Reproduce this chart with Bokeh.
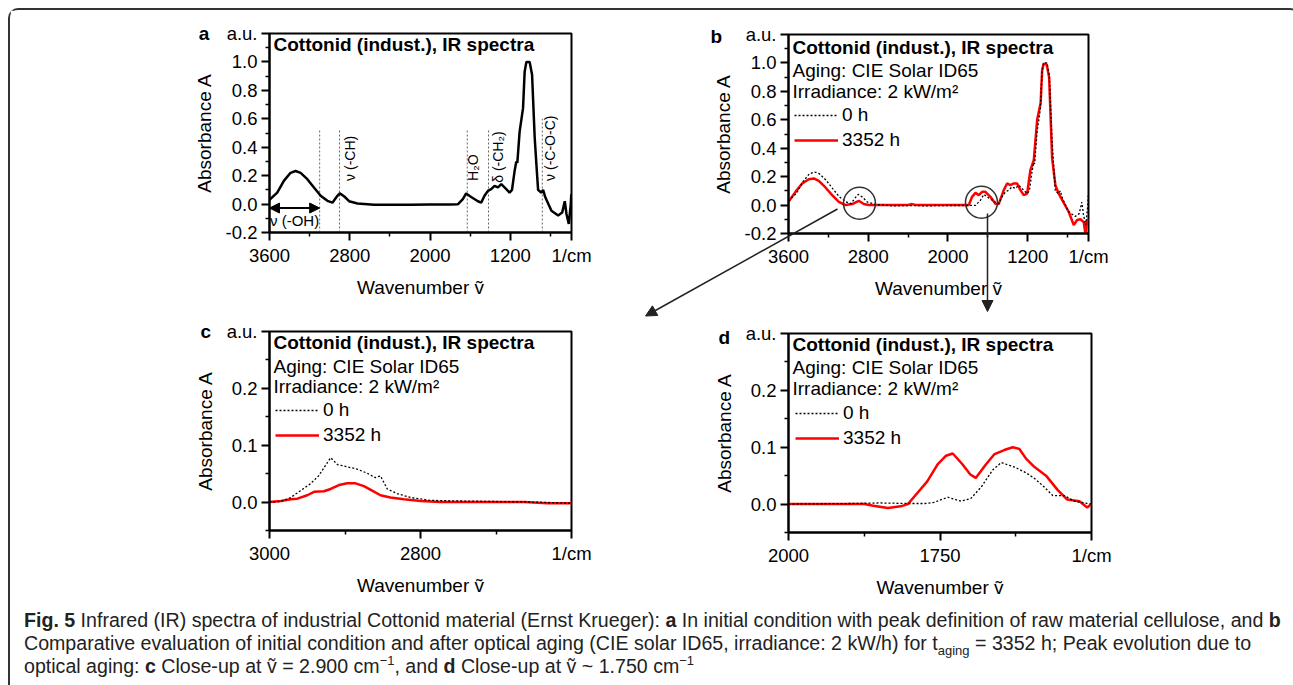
import math
from bokeh.plotting import figure
from bokeh.models import (Range1d, FixedTicker, NumeralTickFormatter, Label, Arrow,
                          NormalHead, Div, Legend, LegendItem, GridBox)
from bokeh.embed import file_html
from bokeh.resources import INLINE

FONT = "Liberation Sans"

# ---------------- data ----------------
# panel a / b : initial condition (0 h)
wn_0h = [3600, 3523, 3457, 3390, 3340, 3290, 3223, 3157, 3090, 3023, 2973, 2923, 2900, 2857,
         2807, 2723, 2557, 2400, 2200, 2000, 1800, 1723, 1673, 1640, 1590, 1523, 1490, 1457,
         1423, 1390, 1357, 1323, 1290, 1240, 1207, 1183, 1157, 1140, 1130, 1107, 1073, 1057,
         1040, 1007, 983, 957, 940, 923, 890, 873, 850, 790, 723, 683, 657, 640, 617, 597, 592]
abs_0h = [0.03, 0.08, 0.163, 0.22, 0.233, 0.22, 0.175, 0.116, 0.058, 0.023, 0.01, 0.058, 0.075,
          0.055, 0.02, 0.004, -0.005, -0.004, -0.005, -0.003, -0.003, -0.002, 0.035, 0.075, 0.05,
          0.02, 0.01, 0.058, 0.093, 0.105, 0.128, 0.117, 0.14, 0.105, 0.081, 0.10, 0.233, 0.30,
          0.29, 0.51, 0.675, 0.93, 1.0, 1.0, 0.91, 0.47, 0.28, 0.10, 0.08, 0.10, 0.046, -0.047,
          -0.08, -0.06, 0.02, -0.07, -0.14, 0.0, 0.07]
# panel b : after 3352 h
wn_3352h = [3600, 3530, 3463, 3396, 3346, 3296, 3229, 3162, 3095, 3028, 2961, 2895, 2845, 2795,
            2600, 2400, 2359, 2325, 2100, 1900, 1791, 1758, 1724, 1691, 1657, 1624, 1574, 1524,
            1491, 1440, 1407, 1373, 1340, 1306, 1273, 1240, 1206, 1173, 1139, 1105, 1070, 1055,
            1040, 1010, 985, 955, 922, 889, 855, 789, 738, 704, 671, 638, 621, 604, 592]
abs_3352h = [0.023, 0.093, 0.152, 0.182, 0.187, 0.17, 0.124, 0.07, 0.023, 0.0, 0.007, 0.03,
             0.007, 0.0, 0.0, 0.0, 0.007, 0.0, 0.0, 0.0, 0.0, 0.058, 0.086, 0.07, 0.093, 0.093,
             0.058, 0.01, 0.007, 0.105, 0.152, 0.14, 0.152, 0.152, 0.105, 0.07, 0.08, 0.245,
             0.316, 0.6, 0.72, 0.95, 0.995, 0.99, 0.9, 0.33, 0.14, 0.08, 0.037, -0.047, -0.14,
             -0.105, -0.1, -0.12, -0.2, -0.11, -0.1]
# panel c : close-up 3000-2600
wn_c_0h = [3000, 2985, 2972, 2959, 2946, 2935, 2926, 2919, 2910, 2897, 2884, 2871, 2860, 2853,
           2844, 2831, 2813, 2787, 2751, 2700, 2650, 2600]
abs_c_0h = [0.0, 0.001, 0.008, 0.02, 0.032, 0.046, 0.064, 0.078, 0.066, 0.062, 0.058, 0.051,
            0.043, 0.046, 0.023, 0.015, 0.008, 0.003, 0.002, 0.001, 0.0, -0.002]
wn_c_3352h = [3000, 2985, 2972, 2963, 2950, 2941, 2928, 2919, 2908, 2897, 2886, 2875, 2864, 2853,
              2840, 2822, 2800, 2774, 2707, 2663, 2632, 2600]
abs_c_3352h = [0.0, 0.002, 0.005, 0.006, 0.012, 0.018, 0.019, 0.023, 0.03, 0.033, 0.033, 0.028,
               0.02, 0.012, 0.008, 0.005, 0.002, 0.0, 0.0, 0.0, -0.002, -0.002]
# panel d : close-up 2000-1500
wn_d_0h = [2000, 1900, 1850, 1800, 1775, 1760, 1737, 1715, 1699, 1682, 1663, 1649, 1627, 1608,
           1594, 1578, 1564, 1545, 1528, 1500]
abs_d_0h = [0.0, 0.001, 0.002, 0.001, 0.001, 0.003, 0.012, 0.005, 0.01, 0.03, 0.06, 0.073,
            0.065, 0.055, 0.045, 0.03, 0.015, 0.015, 0.005, 0.0]
wn_d_3352h = [2000, 1950, 1900, 1875, 1860, 1836, 1815, 1803, 1787, 1771, 1754, 1740, 1729, 1713,
              1700, 1691, 1674, 1660, 1644, 1630, 1619, 1608, 1594, 1575, 1556, 1540, 1520, 1507,
              1500]
abs_d_3352h = [0.0, 0.0, 0.0, 0.0, -0.003, -0.007, -0.004, 0.0, 0.02, 0.04, 0.07, 0.085, 0.089,
               0.07, 0.052, 0.046, 0.07, 0.088, 0.095, 0.1, 0.097, 0.08, 0.065, 0.05, 0.025,
               0.008, 0.005, -0.006, 0.0]

# peak definitions (panel a)
peak_x = [3100, 2902, 1629, 1417, 881]
peak_top = [0.525, 0.525, 0.525, 0.53, 0.60]
peak_labels = ["ν (-CH)", "H₂O", "δ (-CH₂)", "ν (-C-O-C)"]
peak_label_x = [2800, 1572, 1320, 800]
peak_label_y = [0.163, 0.163, 0.15, 0.163]

# regions highlighted in panel b (wavenumber, absorbance)
zoom_x = [2888, 1664]
zoom_y = [0.013, 0.02]

series_labels = ["0 h", "3352 h"]
panel_letters = ["a", "b", "c", "d"]
title_text = "Cottonid (indust.), IR spectra"
aging_text = "Aging: CIE Solar ID65"
irr_text = "Irradiance: 2 kW/m²"


def base_fig(width, height, bl, br, bt, bb, xr, yr):
    p = figure(width=width, height=height, x_range=Range1d(*xr), y_range=Range1d(*yr),
               min_border_left=bl, min_border_right=br, min_border_top=bt,
               min_border_bottom=bb, output_backend="svg", toolbar_location=None, title=None)
    p.frame_align = False
    p.xgrid.visible = False
    p.ygrid.visible = False
    p.outline_line_color = "black"
    p.outline_line_width = 2
    p.outline_line_alpha = 1
    p.background_fill_color = "white"
    p.border_fill_color = "white"
    return p


def style_axes(p, xticks, xminor, xover, yticks, yminor, yover):
    xa = p.xaxis[0]
    ya = p.yaxis[0]
    xa.ticker = FixedTicker(ticks=xticks, minor_ticks=xminor)
    ya.ticker = FixedTicker(ticks=yticks, minor_ticks=yminor)
    xa.major_label_overrides = xover
    ya.formatter = NumeralTickFormatter(format="0.0")
    ya.major_label_overrides = yover
    xa.axis_label = "Wavenumber ṽ"
    ya.axis_label = "Absorbance A"
    for ax in (xa, ya):
        ax.axis_line_width = 2
        ax.axis_line_color = "black"
        ax.major_tick_line_width = 2
        ax.major_tick_line_color = "black"
        ax.minor_tick_line_width = 1.5
        ax.minor_tick_line_color = "black"
        ax.major_tick_out = 8
        ax.major_tick_in = 0
        ax.minor_tick_out = 4
        ax.minor_tick_in = 0
        ax.major_label_text_font = FONT
        ax.major_label_text_font_size = "18.5px"
        ax.major_label_text_color = "black"
        ax.axis_label_text_font = FONT
        ax.axis_label_text_font_size = "19px"
        ax.axis_label_text_font_style = "normal"
        ax.axis_label_text_color = "black"
        ax.major_label_standoff = 4
        ax.axis_label_standoff = 8


def add_text(p, x, y, text, size="19px", bold=False, baseline="middle", align="left"):
    p.add_layout(Label(x=x, y=y, x_units="screen", y_units="screen", text=text,
                       text_font=FONT, text_font_size=size,
                       text_font_style="bold" if bold else "normal",
                       text_baseline=baseline, text_align=align, text_color="black"))


def header(p, fh, dy=0.0, with_aging=True):
    add_text(p, 4, fh - 12.5 - dy, title_text, bold=True)
    if with_aging:
        add_text(p, 4, fh - 36.3 - dy, aging_text)
        add_text(p, 4, fh - 57 - dy, irr_text)


def add_legend(p, r0, r1, x, y):
    lg = Legend(items=[LegendItem(label=series_labels[0], renderers=[r0]),
                       LegendItem(label=series_labels[1], renderers=[r1])],
                location=(x, y), border_line_color=None, background_fill_alpha=0,
                padding=0, margin=0, spacing=3, glyph_width=44, glyph_height=20,
                label_height=20, label_standoff=4, label_text_font=FONT,
                label_text_font_size="19px", label_text_color="black")
    p.add_layout(lg)


XT_FULL = [3600, 2800, 2000, 1200, 590]
XM_FULL = [3200, 2400, 1600, 800]
YT_FULL = [-0.2, 0.0, 0.2, 0.4, 0.6, 0.8, 1.0, 1.2]
YM_FULL = [-0.1, 0.1, 0.3, 0.5, 0.7, 0.9, 1.1]

# ---------------- panel a ----------------
pa = base_fig(610, 308, 259, 49, 23, 86, (3600, 590), (-0.2, 1.2))
style_axes(pa, XT_FULL, XM_FULL, {590: "1/cm"}, YT_FULL, YM_FULL, {1.2: "a.u."})
pa.segment(x0=peak_x, y0=[-0.2] * len(peak_x), x1=peak_x, y1=peak_top,
           line_color="#666666", line_width=1, line_dash="2 2")
pa.line(wn_0h, abs_0h, line_color="black", line_width=2.5)
for t, lx, ly in zip(peak_labels, peak_label_x, peak_label_y):
    pa.add_layout(Label(x=lx, y=ly, text=t, angle=math.pi / 2, text_align="left",
                        text_baseline="middle", text_font=FONT, text_font_size="14px",
                        text_color="black"))
pa.add_layout(Arrow(start=NormalHead(size=10, fill_color="black", line_color="black"),
                    end=NormalHead(size=10, fill_color="black", line_color="black"),
                    x_start=3600, y_start=-0.028, x_end=3100, y_end=-0.028,
                    line_width=2, line_color="black"))
pa.add_layout(Label(x=3350, y=-0.117, text="ν (-OH)", text_align="center",
                    text_baseline="middle", text_font=FONT, text_font_size="15px",
                    text_color="black"))
header(pa, 199, dy=-2, with_aging=False)

# ---------------- panel b ----------------
pb = base_fig(668, 308, 163, 205, 24, 85, (3600, 590), (-0.2, 1.2))
style_axes(pb, XT_FULL, XM_FULL, {590: "1/cm"}, YT_FULL, YM_FULL, {1.2: "a.u."})
rb1 = pb.line(wn_3352h, abs_3352h, line_color="#ff0000", line_width=2.5)
rb0 = pb.line(wn_0h, abs_0h, line_color="black", line_width=1.3, line_dash="2 2")
pb.scatter(x=zoom_x, y=zoom_y, size=32, marker="circle", fill_alpha=0,
           line_color="#333333", line_width=1.5)
header(pb, 199)
add_legend(pb, rb0, rb1, 6, 82)

# ---------------- panel c ----------------
pc = base_fig(610, 282, 259, 49, 13, 70, (3000, 2600), (-0.05, 0.3))
style_axes(pc, [3000, 2800, 2600], [2900, 2700], {2600: "1/cm"},
           [0.0, 0.1, 0.2, 0.3], [-0.05, 0.05, 0.15, 0.25], {0.3: "a.u."})
rc1 = pc.line(wn_c_3352h, abs_c_3352h, line_color="#ff0000", line_width=2.5)
rc0 = pc.line(wn_c_0h, abs_c_0h, line_color="black", line_width=1.3, line_dash="2 2")
header(pc, 199, dy=-1.8)
add_legend(pc, rc0, rc1, 6, 84)

# ---------------- panel d ----------------
pd_ = base_fig(668, 282, 163, 202, 15, 66, (2000, 1500), (-0.05, 0.3))
style_axes(pd_, [2000, 1750, 1500], [1875, 1625], {1500: "1/cm"},
           [0.0, 0.1, 0.2, 0.3], [-0.05, 0.05, 0.15, 0.25], {0.3: "a.u."})
rd1 = pd_.line(wn_d_3352h, abs_d_3352h, line_color="#ff0000", line_width=2.5)
rd0 = pd_.line(wn_d_0h, abs_d_0h, line_color="black", line_width=1.3, line_dash="2 2")
header(pd_, 201)
add_legend(pd_, rd0, rd1, 7, 83)

# ---------------- transparent overlay: panel letters and connector arrows ----------------
ov = figure(width=1278, height=590, x_range=Range1d(0, 1278), y_range=Range1d(590, 0),
            min_border=0, x_axis_location=None, y_axis_location=None,
            output_backend="svg", toolbar_location=None, title=None)
ov.frame_align = False
ov.xgrid.visible = False
ov.ygrid.visible = False
ov.outline_line_color = None
ov.background_fill_alpha = 0
ov.border_fill_alpha = 0
for letter, lx, ly in zip(panel_letters, [188.3, 700, 190, 708], [22.5, 26, 321, 327]):
    ov.add_layout(Label(x=lx, y=ly, text=letter, text_font=FONT, text_font_size="19px",
                        text_font_style="bold", text_baseline="alphabetic",
                        text_align="left", text_color="black"))
ov.add_layout(Arrow(end=NormalHead(size=11, fill_color="#222222", line_color="#222222"),
                    x_start=827, y_start=198.5, x_end=635, y_end=305.5,
                    line_width=1.5, line_color="#222222"))
ov.add_layout(Arrow(end=NormalHead(size=11, fill_color="#222222", line_color="#222222"),
                    x_start=977, y_start=203, x_end=977, y_end=301,
                    line_width=1.5, line_color="#222222"))

# ---------------- caption ----------------
sup = '<sup style="font-size:13px;line-height:0">−1</sup>'
cap_lines = [
    '<b>Fig. 5</b> Infrared (IR) spectra of industrial Cottonid material (Ernst Krueger): '
    '<b>a</b> In initial condition with peak definition of raw material cellulose, and <b>b</b>',
    'Comparative evaluation of initial condition and after optical aging (CIE solar ID65, '
    'irradiance: 2 kW/h) for t<sub style="font-size:13px;line-height:0">aging</sub> = 3352 h; '
    'Peak evolution due to',
    'optical aging: <b>c</b> Close-up at ṽ = 2.900 cm' + sup +
    ', and <b>d</b> Close-up at ṽ ~ 1.750 cm' + sup,
]
cap_html = ('<div style="margin:4px 0 0 9px;font-family:\'Liberation Sans Narrow\','
            '\'Arial Narrow\',sans-serif;font-size:19.6px;line-height:23px;color:#222;'
            'white-space:nowrap">' + '<br>'.join(cap_lines) + '</div>')
cap = Div(text=cap_html, width=1278, height=77)

layout = GridBox(children=[(pa, 0, 0), (pb, 0, 1), (pc, 1, 0), (pd_, 1, 1),
                           (cap, 2, 0, 1, 2), (ov, 0, 0, 2, 2)],
                 styles={"margin": "8px 0 0 8px", "border": "2px solid #333",
                         "border-bottom": "none", "border-radius": "10px 10px 0 0"})

open("out.html", "w").write(file_html(layout, INLINE))
